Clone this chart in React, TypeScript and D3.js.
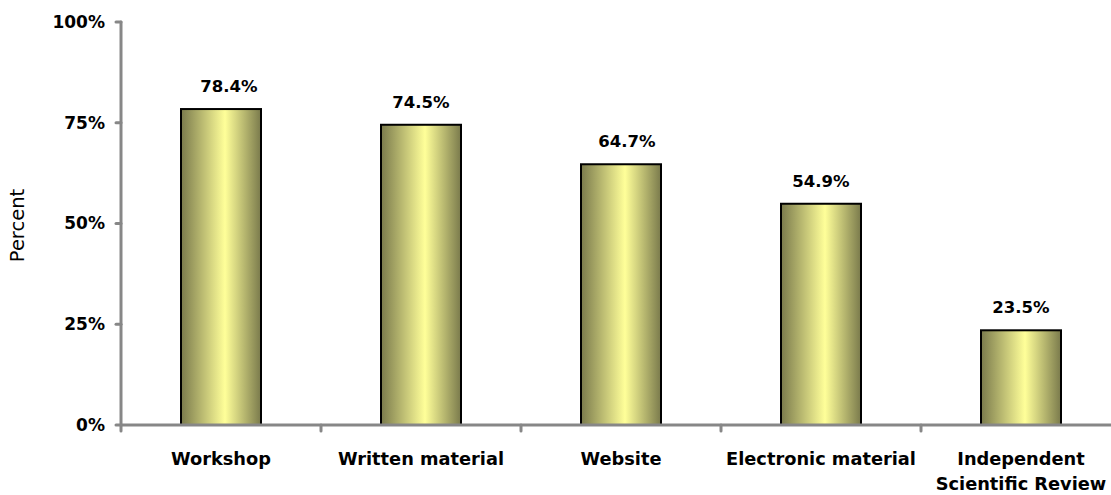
import React from "react";
import * as d3 from "d3";

const categories = ["Workshop", "Written material", "Website", "Electronic material", "Independent\nScientific Review"];
const values = [78.4, 74.5, 64.7, 54.9, 23.5];
const yTicks = [0, 25, 50, 75, 100];

// small horizontal nudges of the value labels, as in the original layout
const labelNudge = [8, 0, 6, 0, 0];

const W = 1111;
const H = 495;
const axisX = 121;
const y0 = 425;
const yTop = 22;
const FONT = "'DejaVu Sans', Verdana, sans-serif";

export default function App() {
  const x = d3
    .scaleBand<string>()
    .domain(categories)
    .range([axisX, axisX + 1000])
    .paddingInner(0.6)
    .paddingOuter(0.3);
  const y = d3.scaleLinear().domain([0, 100]).range([y0, yTop]);
  const step = x.step();
  const gray = "#878787";

  return (
    <svg width={W} height={H} style={{ position: "absolute", left: 0, top: 0, background: "#fff" }}>
      <defs>
        <linearGradient id="barGrad" x1="0" x2="1" y1="0" y2="0">
          <stop offset="0%" stopColor="#7a7a4c" />
          <stop offset="55%" stopColor="#ffff99" />
          <stop offset="100%" stopColor="#7a7a4c" />
        </linearGradient>
      </defs>

      {/* bars */}
      {categories.map((c, i) => (
        <rect
          key={c}
          x={x(c)!}
          y={y(values[i])}
          width={x.bandwidth()}
          height={y0 - y(values[i])}
          fill="url(#barGrad)"
          stroke="#000"
          strokeWidth={2}
        />
      ))}

      {/* axes */}
      <line x1={axisX} x2={axisX} y1={yTop} y2={y0} stroke={gray} strokeWidth={3} strokeLinecap="round" />
      <line x1={axisX} x2={W} y1={y0} y2={y0} stroke={gray} strokeWidth={3} strokeLinecap="round" />
      {yTicks.map((t) => (
        <g key={t}>
          <line x1={axisX - 5} x2={axisX} y1={y(t)} y2={y(t)} stroke={gray} strokeWidth={3} strokeLinecap="round" />
          <text
            x={105}
            y={y(t)}
            dy="0.35em"
            textAnchor="end"
            fontFamily={FONT}
            fontWeight="bold"
            fontSize={17}
            fill="#000"
          >
            {t}%
          </text>
        </g>
      ))}
      {categories.map((c, i) => (
        <line
          key={"t" + i}
          x1={axisX + i * step}
          x2={axisX + i * step}
          y1={y0}
          y2={y0 + 6}
          stroke={gray}
          strokeWidth={3}
          strokeLinecap="round"
        />
      ))}

      {/* value labels */}
      {categories.map((c, i) => (
        <text
          key={"v" + i}
          x={x(c)! + x.bandwidth() / 2 + labelNudge[i]}
          y={y(values[i]) - 17}
          textAnchor="middle"
          fontFamily={FONT}
          fontWeight="bold"
          fontSize={16.5}
          fill="#000"
        >
          {values[i].toFixed(1)}%
        </text>
      ))}

      {/* category labels */}
      {categories.map((c, i) => (
        <text
          key={"c" + i}
          x={x(c)! + x.bandwidth() / 2}
          y={465}
          textAnchor="middle"
          fontFamily={FONT}
          fontWeight="bold"
          fontSize={17.8}
          fill="#000"
        >
          {c.split("\n").map((line, j) => (
            <tspan key={j} x={x(c)! + x.bandwidth() / 2} dy={j === 0 ? 0 : 25}>
              {line}
            </tspan>
          ))}
        </text>
      ))}

      {/* y title */}
      <text
        transform={`translate(24, ${y(50) + 2}) rotate(-90)`}
        textAnchor="middle"
        fontFamily={FONT}
        fontSize={19.5}
        fill="#000"
      >
        Percent
      </text>
    </svg>
  );
}
